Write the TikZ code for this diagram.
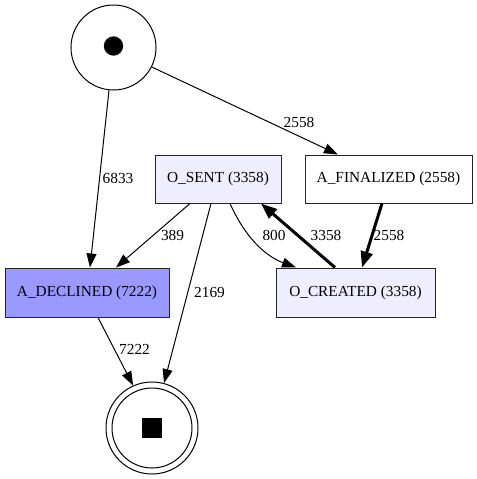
\documentclass[tikz,border=0pt]{standalone}
\usepackage{fontspec}
\setmainfont{Liberation Serif}
\usetikzlibrary{arrows.meta}
\definecolor{lightlav}{RGB}{238,238,255}
\definecolor{declblue}{RGB}{153,153,255}
\begin{document}
\begin{tikzpicture}[x=0.75pt,y=-0.75pt,
  every node/.style={font=\fontsize{11.5}{13}\selectfont},
  act/.style={draw=black!85,line width=0.75pt,rectangle,inner sep=0pt},
  lbl/.style={inner sep=0pt},
  edge/.style={draw,line width=0.75pt,-{Triangle[length=10.5pt,width=7.5pt]}},
  thickedge/.style={draw,line width=2.25pt,-{Triangle[length=12pt,width=9pt]}}]
\useasboundingbox (0,0) rectangle (477,479);
% start
\node[circle,draw,line width=0.75pt,minimum size=63.75pt,inner sep=0pt] (start) at (113.5,47.5) {};
\node[circle,fill=black,minimum size=14.5pt,inner sep=0pt] (startdot) at (113.5,46) {};
% end
\node[circle,draw,line width=0.75pt,minimum size=69pt,inner sep=0pt] (end) at (152,428) {};
\node[circle,draw,line width=0.75pt,minimum size=60pt,inner sep=0pt] (endinner) at (152,428) {};
\node[rectangle,fill=black,minimum size=15pt,inner sep=0pt] (endsq) at (152,428) {};
% activities
\node[act,fill=lightlav,minimum width=94.5pt,minimum height=36pt] (sent) at (218,179) {O\_SENT (3358)};
\node[act,fill=white,minimum width=125.25pt,minimum height=36pt] (fin) at (388.5,179) {A\_FINALIZED (2558)};
\node[act,fill=declblue,minimum width=123pt,minimum height=36.75pt] (decl) at (87,292.5) {A\_DECLINED (7222)};
\node[act,fill=lightlav,minimum width=119.25pt,minimum height=36.75pt] (created) at (355.5,292.5) {O\_CREATED (3358)};
% edges
\draw[edge] (start.264) -- ([xshift=2.25pt]decl.north);
\draw[edge] (start.-27) -- ([xshift=-37.9pt]fin.north);
\draw[edge] ([xshift=-21pt]sent.south) -- ([xshift=21.75pt]decl.north);
\draw[edge] ([xshift=-5.25pt]sent.south) -- (end.75);
\draw[edge] ([xshift=9pt]sent.south) .. controls (245,237) and (265,256) .. ([xshift=-44.6pt]created.north);
\draw[thickedge] ([xshift=-15.4pt]created.north) -- ([xshift=32.25pt]sent.south);
\draw[thickedge] ([xshift=-4.9pt]fin.south) -- ([xshift=4.9pt]created.north);
\draw[edge] ([xshift=8.25pt]decl.south) -- (end.114);
% labels
\node[lbl] (l6833) at (118,178) {6833};
\node[lbl] (l2558a) at (299,122) {2558};
\node[lbl] (l389) at (172.5,235) {389};
\node[lbl] (l2169) at (209.5,292) {2169};
\node[lbl] (l800) at (274,235) {800};
\node[lbl] (l3358) at (326,235) {3358};
\node[lbl] (l2558b) at (389,235) {2558};
\node[lbl] (l7222) at (134.5,349) {7222};
\end{tikzpicture}
\end{document}
